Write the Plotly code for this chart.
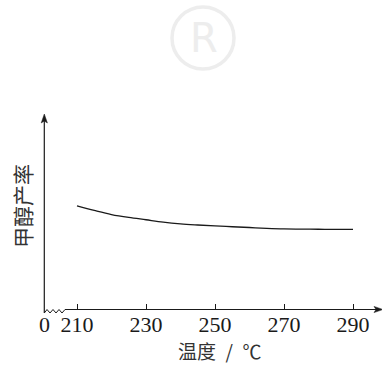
import plotly.graph_objects as go

# Data
temperature = [210, 215, 220, 225, 230, 235, 240, 245, 250, 255, 260, 265, 270, 275, 280, 285, 290]
methanol_yield = [0.531, 0.508, 0.487, 0.472, 0.460, 0.448, 0.439, 0.433, 0.428, 0.424, 0.420,
                  0.416, 0.413, 0.412, 0.411, 0.410, 0.410]
tick_values = [210, 230, 250, 270, 290]
tick_labels = ["210", "230", "250", "270", "290"]
x_title = "温度\u2002/\u2002℃"
y_title = "甲醇产率"

W, H = 382, 365
L, R, T, B = 44, 0, 115, 56
pw, ph = W - L - R, H - T - B


def px(x):
    return (x - L) / pw


def py(y):
    return (H - B - y) / ph


fig = go.Figure()
fig.add_trace(go.Scatter(
    x=temperature, y=methanol_yield, mode="lines",
    line=dict(color="#1a1a1a", width=1.3, shape="spline", smoothing=1.0),
    hoverinfo="skip", showlegend=False,
))

serif = "Liberation Serif, Times New Roman, serif"
cjk = "Noto Sans CJK SC"

shapes = []
ink = "#1a1a1a"
wm = "#ededed"
# faint watermark circle (registered mark)
shapes.append(dict(type="circle", xref="paper", yref="paper", layer="below",
                   x0=px(172), x1=px(234), y0=py(69), y1=py(7),
                   line=dict(color=wm, width=3.5)))
# y axis line
shapes.append(dict(type="line", xref="paper", yref="paper",
                   x0=px(44.3), x1=px(44.3), y0=py(313), y1=py(118),
                   line=dict(color=ink, width=1.2)))
# y arrowhead
shapes.append(dict(type="path", xref="paper", yref="paper",
                   path=f"M {px(44.3)} {py(114)} L {px(41.2)} {py(123)} L {px(44.3)} {py(121)} L {px(47.4)} {py(123)} Z",
                   fillcolor=ink, line=dict(color=ink, width=0.5)))
# zigzag break
zz = [(44.3, 313), (47, 309.5), (50, 313), (53, 309.5), (56, 313), (59, 309.5), (62, 313), (65, 309.5), (67, 309.5)]
path = "M " + " L ".join(f"{px(a)} {py(b)}" for a, b in zz)
shapes.append(dict(type="path", xref="paper", yref="paper", path=path,
                   line=dict(color=ink, width=1.0)))
# x axis line
shapes.append(dict(type="line", xref="paper", yref="paper",
                   x0=px(67), x1=px(378), y0=py(309.5), y1=py(309.5),
                   line=dict(color=ink, width=1.0)))
# x arrowhead
shapes.append(dict(type="path", xref="paper", yref="paper",
                   path=f"M {px(383)} {py(309.5)} L {px(374)} {py(306.4)} L {px(376)} {py(309.5)} L {px(374)} {py(312.6)} Z",
                   fillcolor=ink, line=dict(color=ink, width=0.5)))

annotations = [
    dict(text="0", xref="paper", yref="paper", x=px(44), y=py(324), showarrow=False,
         font=dict(family=serif, size=22, color=ink), xanchor="center", yanchor="middle"),
    dict(text=x_title, xref="paper", yref="paper", x=px(219), y=py(350), showarrow=False,
         font=dict(family=cjk, size=19, color="#333333"), xanchor="center", yanchor="middle"),
    dict(text=y_title, xref="paper", yref="paper", x=px(22), y=py(206), showarrow=False,
         textangle=-90, font=dict(family=cjk, size=21, color="#333333"),
         xanchor="center", yanchor="middle"),
    dict(text="R", xref="paper", yref="paper", x=px(204), y=py(38), showarrow=False,
         font=dict(family="DejaVu Sans", size=40, color=wm), xanchor="center", yanchor="middle"),
]

fig.update_layout(
    width=W, height=H,
    margin=dict(l=L, r=R, t=T, b=B),
    paper_bgcolor="white", plot_bgcolor="rgba(0,0,0,0)",
    shapes=shapes, annotations=annotations,
    xaxis=dict(range=[210 - 33 / 3.45, 210 + (W - 77) / 3.45],
               tickvals=tick_values, ticktext=tick_labels,
               ticks="inside", ticklen=5, tickwidth=1, tickcolor=ink,
               showline=False, showgrid=False, zeroline=False,
               tickfont=dict(family=serif, size=22, color=ink)),
    yaxis=dict(range=[0, 1], showticklabels=False, ticks="", showline=False,
               showgrid=False, zeroline=False),
)

fig.write_html("out.html", config={"displayModeBar": False},
               post_script="document.body.style.margin='0';document.body.style.padding='0';")
